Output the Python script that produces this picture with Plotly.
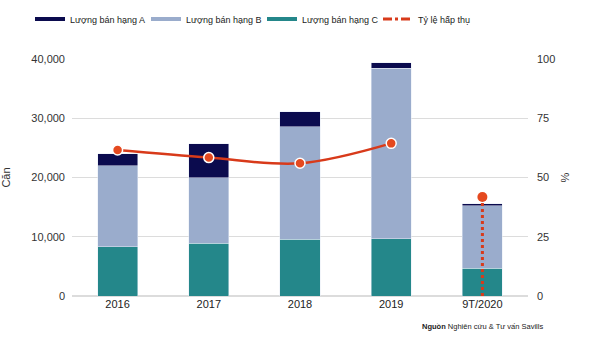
import plotly.graph_objects as go

years = ["2016", "2017", "2018", "2019", "9T/2020"]
grade_a = [2000, 5700, 2500, 1000, 400]
grade_b = [13700, 11100, 19000, 28700, 10500]
grade_c = [8300, 8900, 9600, 9700, 4700]
absorption = [61.6, 58.4, 56.0, 64.4, 41.8]

col_a = "#0b0b4e"
col_b = "#9aaccc"
col_c = "#24878a"
col_line = "#d83a1a"
col_mark = "#e5491f"

fig = go.Figure()
fig.add_trace(go.Bar(x=years, y=grade_c, marker_color=col_c, showlegend=False))
fig.add_trace(go.Bar(x=years, y=grade_b, marker_color=col_b, showlegend=False))
fig.add_trace(go.Bar(x=years, y=grade_a, marker_color=col_a, showlegend=False))

# solid smoothed line for full years
fig.add_trace(go.Scatter(x=years[:4], y=absorption[:4], yaxis="y2", mode="lines+markers",
                         line=dict(color=col_line, width=2.5, shape="spline"),
                         marker=dict(color=col_mark, size=10, line=dict(color="white", width=1.5)),
                         showlegend=False))
# dotted drop for 9T/2020
fig.add_trace(go.Scatter(x=[years[4], years[4]], y=[absorption[4], 0], yaxis="y2", mode="lines",
                         line=dict(color=col_line, width=3, dash="dot"), showlegend=False))
fig.add_trace(go.Scatter(x=[years[4]], y=[absorption[4]], yaxis="y2", mode="markers",
                         marker=dict(color=col_mark, size=10), showlegend=False))

# legend entries
for name, c, d in [("Lượng bán hạng A", col_a, "solid"), ("Lượng bán hạng B", col_b, "solid"),
                   ("Lượng bán hạng C", col_c, "solid"), ("Tỷ lệ hấp thụ", col_line, "dashdot")]:
    fig.add_trace(go.Scatter(x=[None], y=[None], mode="lines", name=name,
                             line=dict(color=c, width=4 if d == "solid" else 3, dash=d)))

fig.update_layout(
    width=600, height=347,
    barmode="stack", bargap=0.56,
    plot_bgcolor="white", paper_bgcolor="white",
    margin=dict(l=72, r=72, t=59, b=51, autoexpand=False),
    font=dict(family="Liberation Sans, Arial", size=11, color="#333333"),
    xaxis=dict(showgrid=False, tickfont=dict(size=11, color="#222222"), ticks=""),
    yaxis=dict(range=[0, 40000], tickvals=[0, 10000, 20000, 30000, 40000],
               ticktext=["0", "10,000", "20,000", "30,000", "40,000"],
               gridcolor="#dcdcdc", zeroline=True, zerolinecolor="#dcdcdc",
               title=dict(text="Căn", font=dict(size=11), standoff=22),
               ticklabelstandoff=6),
    yaxis2=dict(range=[0, 100], tickvals=[0, 25, 50, 75, 100], overlaying="y", side="right",
                showgrid=False, zeroline=False,
                title=dict(text="%", font=dict(size=11), standoff=6),
                ticklabelstandoff=8),
    legend=dict(orientation="h", x=(30 - 72) / 456, y=1 + (59 - 19) / 237,
                xanchor="left", yanchor="middle",
                font=dict(size=9, color="#222222"), itemwidth=30, traceorder="normal",
                entrywidth=71, entrywidthmode="pixels"),
    annotations=[dict(text="<b>Nguồn</b> Nghiên cứu & Tư vấn Savills",
                      x=(420 - 72) / 456, y=-(326 - 296) / 237,
                      xref="paper", yref="paper", showarrow=False, font=dict(size=7.5, color="#222222"),
                      xanchor="left", yanchor="middle")],
)

fig.write_html("out.html")
